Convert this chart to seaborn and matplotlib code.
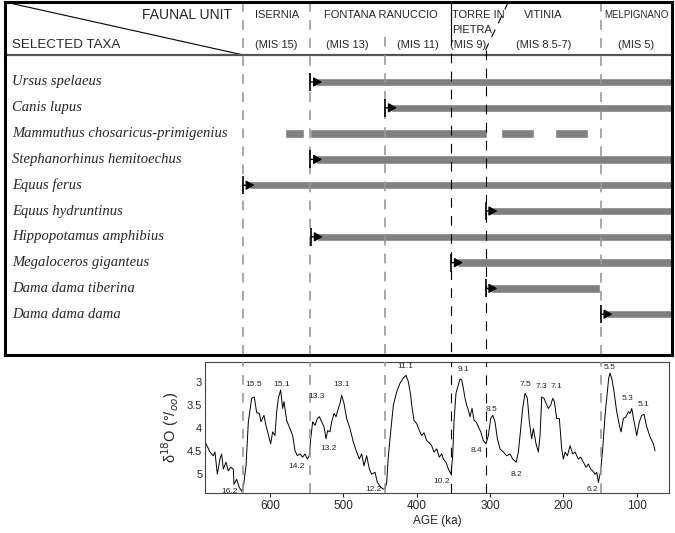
import matplotlib
matplotlib.use("Agg")
import matplotlib.pyplot as plt
import seaborn as sns
import pandas as pd

sns.set_style("white")
plt.rcParams["font.family"] = ["Liberation Sans", "DejaVu Sans"]
plt.rcParams["lines.scale_dashes"] = False

# ---------------------------- data ----------------------------
taxa = ["Ursus spelaeus", "Canis lupus", "Mammuthus chosaricus-primigenius",
        "Stephanorhinus hemitoechus", "Equus ferus", "Equus hydruntinus",
        "Hippopotamus amphibius", "Megaloceros giganteus", "Dama dama tiberina",
        "Dama dama dama"]
# first appearance (ka) and last occurrence (0 = still present at right edge)
taxa_first = [545, 443, None, 545, 637, 306, 544, 353, 306, 149]
taxa_last = [0, 0, None, 0, 0, 0, 0, 0, 150, 0]
# Mammuthus occurrence segments (ka)
mammuthus_from = [580, 545, 285, 212]
mammuthus_to = [554, 304, 240, 167]

boundaries = [637, 545, 443, 353, 306, 149]
boundary_dark = [False, False, False, True, True, False]

units = ["ISERNIA", "FONTANA RANUCCIO", "TORRE IN\nPIETRA", "VITINIA", "MELPIGNANO"]
unit_old = [637, 545, 353, 306, 149]
unit_young = [545, 353, 306, 149, 52]
unit_size = [8, 8, 8, 8, 7]
mis = ["(MIS 15)", "(MIS 13)", "(MIS 11)", "(MIS 9)", "(MIS 8.5-7)", "(MIS 5)"]
mis_old = [637, 545, 443, 353, 306, 149]
mis_young = [545, 443, 353, 306, 149, 52]

age = [688.6, 681.8, 677.3, 675.0, 671.8, 668.2, 665.9, 663.6, 660.0, 656.8,
       653.6, 650.0, 649.1, 645.5, 641.8, 638.6, 636.4, 632.7, 629.5, 625.0,
       621.4, 618.2, 614.5, 612.3, 608.2, 605.5, 603.2, 599.1, 596.4, 593.2,
       590.9, 588.6, 585.5, 582.7, 580.9, 577.3, 572.7, 569.1, 565.9, 562.7,
       559.1, 555.5, 552.3, 549.1, 546.4, 544.5, 541.8, 538.6, 535.5, 532.7,
       529.5, 526.4, 523.6, 521.4, 518.2, 515.9, 512.7, 510.0, 506.8, 504.5,
       502.3, 499.1, 495.5, 490.9, 486.4, 481.8, 478.2, 475.0, 471.8, 468.2,
       464.5, 461.4, 456.8, 453.6, 450.0, 446.4, 443.2, 440.9, 438.6, 436.4,
       434.1, 431.8, 427.3, 422.7, 418.2, 414.5, 411.4, 408.2, 406.8, 403.6,
       400.0, 396.4, 393.2, 390.0, 386.4, 382.7, 379.6, 376.4, 372.7, 369.1,
       365.9, 363.6, 360.0, 356.8, 354.6, 353.2, 350.9, 349.1, 346.4, 343.2,
       340.9, 338.6, 336.4, 334.1, 331.8, 329.5, 327.3, 324.5, 321.8, 319.1,
       315.9, 312.7, 309.1, 305.5, 302.3, 299.1, 296.4, 293.2, 290.0, 286.4,
       281.8, 277.3, 272.7, 269.1, 264.5, 261.4, 259.1, 255.5, 252.3, 249.1,
       246.4, 243.2, 240.9, 237.3, 234.1, 231.8, 229.5, 226.4, 223.6, 220.5,
       217.3, 214.5, 212.3, 209.1, 205.5, 202.3, 200.0, 197.7, 194.5, 190.9,
       187.3, 184.1, 179.6, 176.4, 172.7, 169.1, 165.9, 162.7, 160.0, 156.8,
       154.5, 152.3, 149.1, 146.4, 143.2, 140.9, 138.2, 136.4, 133.6, 130.9,
       127.3, 123.6, 121.4, 118.2, 114.5, 111.4, 109.1, 106.8, 103.6, 100.0,
       96.4, 93.2, 90.0, 86.4, 81.8, 77.3, 75.0]
d18o = [4.29, 4.52, 4.60, 4.52, 5.00, 4.67, 4.56, 4.89, 4.74, 4.93,
        4.85, 4.89, 5.22, 5.11, 5.29, 5.37, 5.29, 4.82, 3.86, 3.35,
        3.32, 3.66, 3.68, 3.86, 3.72, 3.94, 4.08, 4.34, 4.08, 4.16,
        3.64, 3.35, 3.17, 3.57, 3.42, 3.83, 4.01, 4.16, 4.49, 4.60,
        4.56, 4.63, 4.56, 4.67, 4.60, 4.23, 3.86, 3.94, 3.79, 3.75,
        3.86, 3.97, 4.23, 4.05, 4.08, 3.86, 3.68, 3.75, 3.57, 3.46,
        3.28, 3.46, 3.79, 4.01, 4.30, 4.52, 4.67, 4.56, 4.82, 4.60,
        4.89, 5.00, 4.96, 5.18, 5.26, 5.32, 5.33, 5.18, 4.60, 4.23,
        3.86, 3.50, 3.21, 3.02, 2.91, 2.85, 2.99, 3.28, 3.50, 3.83,
        3.90, 4.05, 4.16, 4.10, 4.27, 4.32, 4.38, 4.52, 4.45, 4.63,
        4.56, 4.67, 4.74, 4.89, 4.96, 5.00, 4.60, 3.86, 3.24, 3.06,
        2.93, 2.95, 3.13, 3.35, 3.50, 3.61, 3.75, 3.57, 3.83, 3.86,
        3.97, 4.08, 4.27, 4.34, 4.16, 3.79, 3.72, 3.86, 4.23, 4.45,
        4.52, 4.60, 4.56, 4.67, 4.74, 4.52, 4.16, 3.57, 3.24, 3.35,
        3.86, 4.23, 4.01, 4.34, 4.52, 4.16, 3.32, 3.35, 3.46, 3.57,
        3.50, 3.35, 3.42, 3.79, 3.79, 4.45, 4.67, 4.52, 4.60, 4.38,
        4.56, 4.52, 4.67, 4.63, 4.74, 4.85, 4.78, 4.89, 4.93, 5.00,
        4.96, 5.18, 4.93, 4.45, 3.72, 3.35, 2.91, 2.80, 2.95, 3.21,
        3.64, 3.94, 4.08, 3.79, 3.75, 3.64, 3.68, 3.57, 3.86, 4.16,
        3.86, 3.72, 3.70, 3.97, 4.19, 4.34, 4.49]

peak_names = ["16.2", "15.5", "15.1", "14.2", "13.3", "13.2", "13.1", "12.2",
              "11.1", "10.2", "9.1", "8.4", "8.5", "8.2", "7.5", "7.3", "7.1",
              "6.2", "5.5", "5.3", "5.1"]
peak_age = [654.5, 622.7, 584.0, 563.6, 536.4, 520.5, 502.3, 459.0,
            415.9, 365.9, 336.4, 318.2, 297.7, 264.5, 252.3, 229.5, 209.1,
            160.0, 136.4, 112.7, 91.0]
peak_val = [5.37, 3.04, 3.04, 4.84, 3.31, 4.45, 3.04, 5.33,
            2.66, 5.17, 2.73, 4.49, 3.59, 5.00, 3.06, 3.10, 3.10,
            5.33, 2.68, 3.35, 3.48]

curve = pd.DataFrame({"age": age, "d18o": d18o})

# ---------------------------- figure ----------------------------
fig = plt.figure(figsize=(6.75, 5.33), dpi=100)
ax = fig.add_axes([5 / 675, 1 - 355 / 533, 667 / 675, 353 / 533])
ax2 = fig.add_axes([205 / 675, 1 - 493 / 533, 464 / 675, 131 / 533])

# ---- upper panel: taxa ranges ----
x_left, x_right = 961.3, 51.9
y_top, y_bot = -3.1, 10.58
head_line = -1.05
ax.set_xlim(x_left, x_right)
ax.set_ylim(y_bot, y_top)
ax.set_xticks([])
ax.set_yticks([])
for s in ax.spines.values():
    s.set_linewidth(2.2)
    s.set_color("black")
    s.set_zorder(10)

grey = "#808080"
for i, name in enumerate(taxa):
    ax.text(951.8, i, name, family="Liberation Serif", style="italic",
            fontsize=10.5, va="center", ha="left")
    if taxa_first[i] is None:
        continue
    start = taxa_first[i]
    end = taxa_last[i]
    ax.barh(i, end - (start - 8), left=start - 8, height=0.32, color=grey,
            zorder=2)
    ax.plot([start], [i], marker="|", ms=13, mew=1.2, color="black", zorder=4)
    ax.annotate("", xy=(start - 16, i), xytext=(start, i),
                arrowprops=dict(arrowstyle="-|>,head_length=0.5,head_width=0.28",
                                color="black", lw=1.0, shrinkA=0, shrinkB=0),
                zorder=4)

for a, b in zip(mammuthus_from, mammuthus_to):
    ax.barh(2, b - a, left=a, height=0.32, color=grey, zorder=2)

# header
ax.axhline(head_line, color="#555555", lw=1.6, zorder=3)
ax.plot([x_left, boundaries[0]], [y_top, head_line], color="black", lw=0.8)
ax.text(651.8, -2.6, "FAUNAL UNIT", fontsize=10, ha="right", va="center")
ax.text(951.8, -1.43, "SELECTED TAXA", fontsize=9.6, ha="left", va="center")

for name, o, y, fs in zip(units, unit_old, unit_young, unit_size):
    if "\n" in name:
        top, low = name.split("\n")
        ax.text(o - 1.5, -2.6, top, fontsize=fs, ha="left", va="center")
        ax.text(o - 1.5, -2.02, low, fontsize=fs, ha="left", va="center")
    else:
        ax.text((o + y) / 2, -2.6, name, fontsize=fs, ha="center", va="center")
for name, o, y in zip(mis, mis_old, mis_young):
    ax.text((o + y) / 2, -1.43, name, fontsize=8, ha="center", va="center")

# boundaries in the upper panel
line_top = [y_top, y_top, -1.75, -1.82, -1.25, y_top]
for b, dark, t in zip(boundaries, boundary_dark, line_top):
    c = "black" if dark else "#999999"
    lw = 0.8 if dark else 1.2
    ax.plot([b, b], [t, y_bot], color=c, lw=lw, ls=(0, (7, 6)), zorder=3)
ax.plot([boundaries[3], boundaries[3]], [y_top, -1.82], color="black", lw=0.8)
ax.plot([275, boundaries[4]], [y_top, -1.25], color="black", lw=0.8,
        ls=(0, (6, 5)))

# ---- lower panel: d18O curve ----
sns.lineplot(data=curve, x="age", y="d18o", ax=ax2, color="black", lw=0.7,
             sort=False, estimator=None)
for b, dark in zip(boundaries, boundary_dark):
    c = "black" if dark else "#999999"
    lw = 0.8 if dark else 1.2
    ax2.axvline(b, color=c, lw=lw, ls=(0, (7, 6)), zorder=3)
for t, a, v in zip(peak_names, peak_age, peak_val):
    ax2.text(a, v, t, fontsize=6, ha="center", va="center")

ax2.set_xlim(688.6, 56.0)
ax2.set_ylim(5.41, 2.56)
ax2.set_xticks([600, 500, 400, 300, 200, 100])
ax2.set_yticks([3, 3.5, 4, 4.5, 5])
ax2.set_yticklabels(["3", "3.5", "4", "4.5", "5"])
ax2.tick_params(axis="x", length=3, width=0.8, labelsize=8.5, pad=2, bottom=True)
ax2.tick_params(axis="y", length=0, labelsize=8, pad=2)
for s in ax2.spines.values():
    s.set_linewidth(0.8)
    s.set_color("#444444")
ax2.set_xlabel("AGE (ka)", fontsize=8.5, labelpad=2)
ax2.set_ylabel("δ$^{18}$O (°/$_{oo}$)", fontsize=10.5, labelpad=4)

fig.savefig("out.png", dpi=100)
